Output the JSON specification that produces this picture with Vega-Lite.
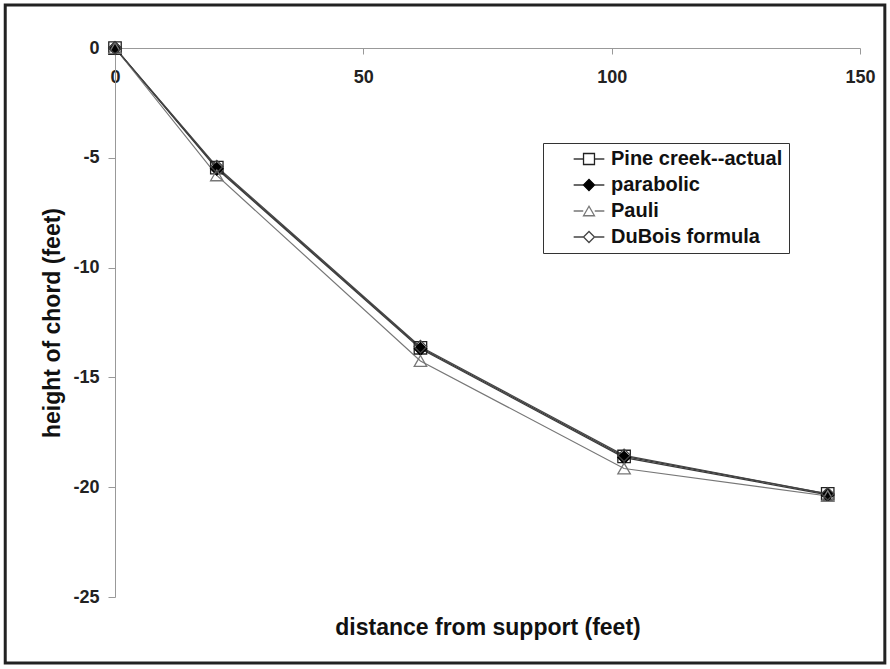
{
  "$schema": "https://vega.github.io/schema/vega-lite/v6.json",
  "width": 745,
  "height": 549,
  "autosize": {"type": "none"},
  "padding": {"left": 115, "top": 48, "right": 30, "bottom": 72},
  "background": "white",
  "config": {
    "view": {"stroke": null},
    "font": "Liberation Sans",
    "legend": {
      "orient": "none",
      "legendX": 428,
      "legendY": 95,
      "title": null,
      "padding": 6,
      "labelFont": "Liberation Sans",
      "labelFontSize": 20,
      "labelFontWeight": "bold",
      "labelColor": "#111",
      "labelLimit": 400,
      "symbolSize": 120,
      "symbolStrokeWidth": 1.3,
      "symbolOffset": 30,
      "labelOffset": 12,
      "rowPadding": 6
    }
  },
  "datasets": {
    "curves": [
      {"series": "Pine creek--actual", "x": 0, "y": 0},
      {"series": "Pine creek--actual", "x": 20.5, "y": -5.45},
      {"series": "Pine creek--actual", "x": 61.5, "y": -13.65},
      {"series": "Pine creek--actual", "x": 102.5, "y": -18.6},
      {"series": "Pine creek--actual", "x": 143.5, "y": -20.3},
      {"series": "parabolic", "x": 0, "y": 0},
      {"series": "parabolic", "x": 20.5, "y": -5.5},
      {"series": "parabolic", "x": 61.5, "y": -13.7},
      {"series": "parabolic", "x": 102.5, "y": -18.65},
      {"series": "parabolic", "x": 143.5, "y": -20.35},
      {"series": "Pauli", "x": 0, "y": 0},
      {"series": "Pauli", "x": 20.5, "y": -5.8},
      {"series": "Pauli", "x": 61.5, "y": -14.25},
      {"series": "Pauli", "x": 102.5, "y": -19.15},
      {"series": "Pauli", "x": 143.5, "y": -20.4},
      {"series": "DuBois formula", "x": 0, "y": 0},
      {"series": "DuBois formula", "x": 20.5, "y": -5.4},
      {"series": "DuBois formula", "x": 61.5, "y": -13.6},
      {"series": "DuBois formula", "x": 102.5, "y": -18.55},
      {"series": "DuBois formula", "x": 143.5, "y": -20.3}
    ],
    "frame": [{"x": -22.1, "xe": 155, "y": 1.96, "ye": -28.0}]
  },
  "encoding": {
    "x": {
      "field": "x",
      "type": "quantitative",
      "scale": {"domain": [0, 150], "nice": false, "zero": false},
      "axis": {
        "orient": "bottom",
        "offset": -549,
        "values": [0, 50, 100, 150],
        "title": "distance from support (feet)",
        "titleY": 568,
        "titleFontSize": 23,
        "titleFontWeight": "bold",
        "titleColor": "#111",
        "labelFontSize": 18,
        "labelFontWeight": "bold",
        "labelColor": "#222",
        "labelPadding": 14,
        "labelFlush": false,
        "labelExpr": "'' + datum.value",
        "tickSize": 6,
        "tickColor": "#999",
        "domainColor": "#999",
        "grid": false
      }
    },
    "y": {
      "field": "y",
      "type": "quantitative",
      "scale": {"domain": [-25, 0], "nice": false, "zero": false},
      "axis": {
        "values": [0, -5, -10, -15, -20, -25],
        "title": "height of chord (feet)",
        "titleFontSize": 23,
        "titleFontWeight": "bold",
        "titleColor": "#111",
        "titlePadding": 8,
        "labelFontSize": 18,
        "labelFontWeight": "bold",
        "labelColor": "#222",
        "labelPadding": 9,
        "labelExpr": "'' + datum.value",
        "tickSize": 7,
        "tickColor": "#999",
        "domainColor": "#999",
        "grid": false
      }
    }
  },
  "layer": [
    {
      "data": {"name": "frame"},
      "mark": {"type": "rect", "filled": false, "stroke": "#222", "strokeWidth": 3, "clip": false},
      "encoding": {"x2": {"field": "xe"}, "y2": {"field": "ye"}}
    },
    {
      "data": {"name": "curves"},
      "mark": {"type": "line", "strokeWidth": 1.2},
      "encoding": {
        "color": {
          "field": "series",
          "type": "nominal",
          "scale": {"domain": ["parabolic", "Pine creek--actual", "Pauli", "DuBois formula"], "range": ["#3a3a3a", "#3a3a3a", "#777", "#444"]},
          "legend": {
            "title": null,
            "symbolType": "M-2.8,0H-1.05M1.05,0H2.8",
            "labelExpr": "' '",
            "labelOpacity": 0,
            "strokeColor": "transparent",
            "fillColor": "transparent"
          }
        }
      }
    },
    {
      "data": {"name": "curves"},
      "mark": {"type": "point", "strokeWidth": 1.3, "opacity": 1, "size": 155},
      "encoding": {
        "shape": {
          "field": "series",
          "type": "nominal",
          "scale": {"domain": ["Pine creek--actual", "parabolic", "Pauli", "DuBois formula"], "range": ["square", "diamond", "triangle-up", "diamond"]},
          "legend": {"title": null, "strokeColor": "#333", "fillColor": "transparent"}
        },
        "fill": {
          "field": "series",
          "type": "nominal",
          "scale": {"domain": ["Pine creek--actual", "parabolic", "Pauli", "DuBois formula"], "range": ["transparent", "#000", "transparent", "transparent"]},
          "legend": {"title": null, "strokeColor": "#333", "fillColor": "transparent"}
        },
        "stroke": {
          "field": "series",
          "type": "nominal",
          "scale": {"domain": ["Pine creek--actual", "parabolic", "Pauli", "DuBois formula"], "range": ["#222", "#000", "#777", "#444"]},
          "legend": {"title": null, "strokeColor": "#333", "fillColor": "transparent"}
        }
      }
    }
  ]
}
